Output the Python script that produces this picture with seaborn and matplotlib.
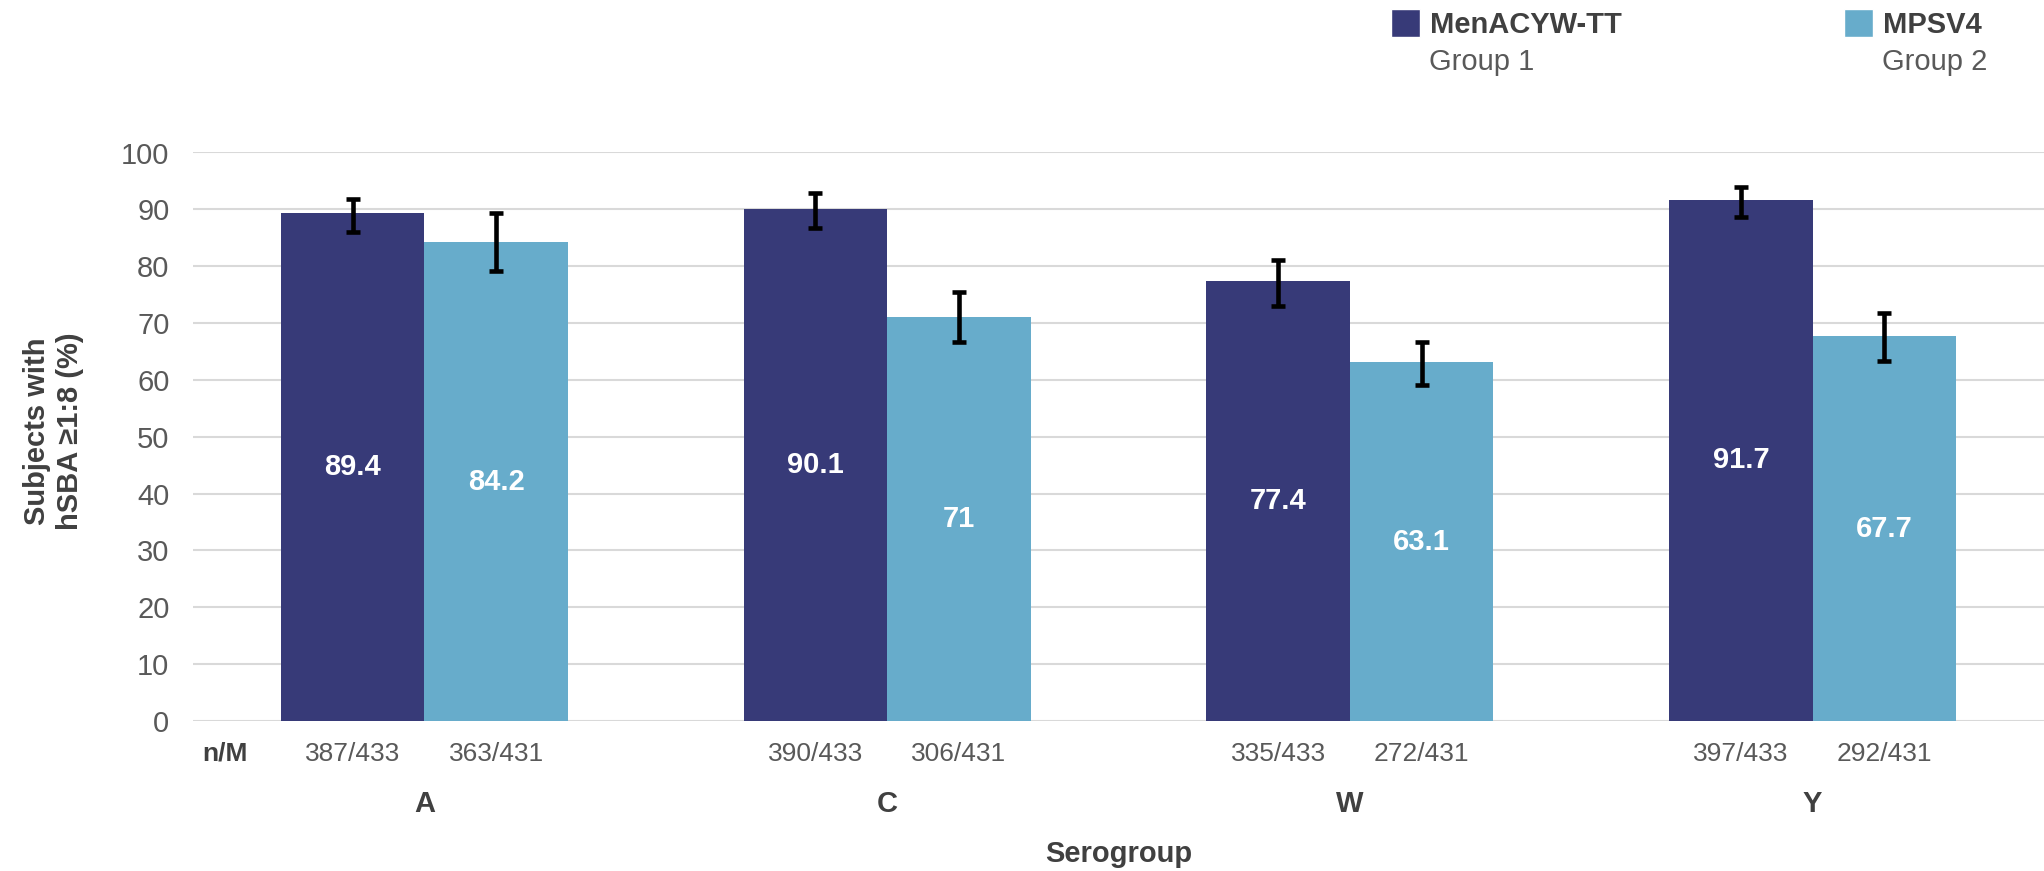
import matplotlib
matplotlib.use('Agg')
import pandas as pd
import matplotlib.pyplot as plt
import seaborn as sns
from matplotlib.patches import Patch

groups = ['A', 'C', 'W', 'Y']
vaccines = ['MenACYW-TT', 'MPSV4']
group_names = ['Group 1', 'Group 2']

pct_tt = [89.4, 90.1, 77.4, 91.7]
pct_mpsv4 = [84.2, 71.0, 63.1, 67.7]

# 95% CI
lo_tt = [86.1, 86.8, 73.0, 88.7]
hi_tt = [91.9, 92.8, 81.1, 94.0]
lo_mpsv4 = [79.2, 66.7, 59.1, 63.4]
hi_mpsv4 = [89.3, 75.4, 66.7, 71.8]

nm_tt = ['387/433', '390/433', '335/433', '397/433']
nm_mpsv4 = ['363/431', '306/431', '272/431', '292/431']

dark = '#373A78'
light = '#67ACCB'
txt_dark = '#404040'
txt_grey = '#595959'

df = pd.DataFrame({
    'Serogroup': groups + groups,
    'Vaccine': [vaccines[0]] * 4 + [vaccines[1]] * 4,
    'Percent': pct_tt + pct_mpsv4,
})

sns.set_theme(style='white')
plt.rcParams['font.family'] = ['Liberation Sans', 'DejaVu Sans']

W, H = 2044, 871
fig = plt.figure(figsize=(W / 100, H / 100), dpi=100)
ax = fig.add_axes([193 / W, 150 / H, (W - 193) / W, 568.5 / H])

sns.barplot(data=df, x='Serogroup', y='Percent', hue='Vaccine',
            palette=[dark, light], width=0.62, gap=0, errorbar=None,
            saturation=1, linewidth=0, legend=False, ax=ax)

for cont, lo, hi, vals in zip(ax.containers, [lo_tt, lo_mpsv4], [hi_tt, hi_mpsv4], [pct_tt, pct_mpsv4]):
    xs = [b.get_x() + b.get_width() / 2 for b in cont]
    ys = [b.get_height() for b in cont]
    yerr = [[y - l for y, l in zip(ys, lo)], [h - y for y, h in zip(ys, hi)]]
    ax.errorbar(xs, ys, yerr=yerr, fmt='none', ecolor='black',
                elinewidth=3.3, capsize=5, capthick=3.3, zorder=5)
    ax.bar_label(cont, labels=[f'{v:g}' for v in vals], label_type='center',
                 color='white', fontsize=21, fontweight='bold')

# n/M row under the bars
xform = ax.get_xaxis_transform()
for cont, nm in zip(ax.containers, [nm_tt, nm_mpsv4]):
    for b, s in zip(cont, nm):
        ax.text(b.get_x() + b.get_width() / 2, -0.058, s, transform=xform,
                ha='center', va='center', fontsize=19, color=txt_grey)
ax.text(-0.431, -0.058, 'n/M', transform=xform, ha='center', va='center',
        fontsize=19, fontweight='bold', color=txt_dark)

ax.set_xlim(-0.5, 3.5)
ax.set_ylim(0, 100)
ax.set_yticks(range(0, 101, 10))
ax.yaxis.grid(True, color='#D9D9D9', linewidth=1.5)
ax.set_axisbelow(True)
sns.despine(ax=ax, left=True, bottom=True)

ax.tick_params(axis='y', length=0, pad=17, labelsize=21, labelcolor=txt_grey)
ax.tick_params(axis='x', length=0, pad=49.5, labelsize=21, labelcolor=txt_dark)
for t in ax.get_xticklabels():
    t.set_fontweight('bold')

ax.set_xlabel('Serogroup', fontsize=21, fontweight='bold', color=txt_dark, labelpad=16)
ax.set_ylabel('Subjects with\nhSBA \u22651:8 (%)', fontsize=21, fontweight='bold',
              color=txt_dark, multialignment='center')
ax.yaxis.set_label_coords(-0.059, 0.51)

# legend: bold vaccine name with group underneath
for color, name, grp, x0 in zip([dark, light], vaccines, group_names, [1391, 1844]):
    fig.legend([Patch(facecolor=color)], [name], loc='upper left',
               bbox_to_anchor=(x0 / W, 1 - 9 / H), frameon=False,
               handlelength=1.0, handleheight=1.1, handletextpad=0.35,
               borderpad=0, borderaxespad=0, labelcolor=txt_dark,
               prop={'weight': 'bold', 'size': 21})
    fig.text((x0 + 38) / W, 1 - 62 / H, grp, va='center', ha='left',
             fontsize=21, color=txt_grey)

fig.savefig('out.png', dpi=100)
